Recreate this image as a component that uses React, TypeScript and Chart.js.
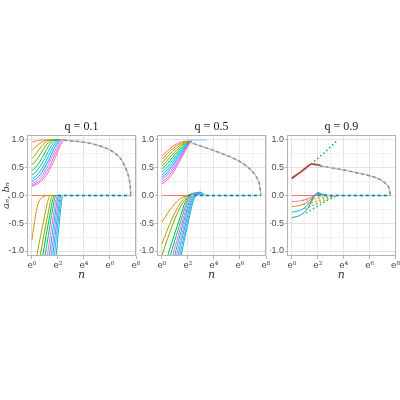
import { useEffect, useRef } from 'react';
import { Chart, registerables } from 'chart.js';

Chart.register(...registerables);

type Pt = [number, number];

// ---------- text / ticks ----------
const panelTitles = ['q = 0.1', 'q = 0.5', 'q = 0.9'];
const xMajorTicks = [0, 2, 4, 6, 8];
const xTickLabels = ['e⁰', 'e²', 'e⁴', 'e⁶', 'e⁸'];
const xMinorTicks = [1, 3, 5, 7];
const yMajorTicks = [-1, -0.5, 0, 0.5, 1];
const yTickLabels = ['-1.0', '-0.5', '0.0', '0.5', '1.0'];
const yMinorTicks = [-0.75, -0.25, 0.25, 0.75];
const yAxisLabel = 'aₙ, bₙ';
const xAxisLabel = 'n';

// ---------- q = 0.1 ----------
const p1UpperX = [0, 0.25, 0.5, 0.75, 1, 1.25, 1.5, 1.75, 2, 2.25, 2.5];
const p1Upper = [
  [0.96, 0.98, 0.99, 1, 1, 1, 1, 1, 1, 1, 1],
  [0.81, 0.87, 0.92, 0.96, 0.99, 1, 1, 1, 1, 1, 1],
  [0.67, 0.73, 0.81, 0.89, 0.95, 0.99, 1, 1, 1, 1, 1],
  [0.56, 0.61, 0.69, 0.78, 0.88, 0.95, 0.99, 1, 1, 1, 1],
  [0.45, 0.5, 0.57, 0.67, 0.77, 0.88, 0.96, 1, 1, 1, 1],
  [0.37, 0.41, 0.48, 0.57, 0.67, 0.79, 0.9, 0.97, 1, 1, 1],
  [0.31, 0.34, 0.4, 0.48, 0.58, 0.7, 0.82, 0.93, 0.99, 1, 1],
  [0.26, 0.29, 0.34, 0.41, 0.51, 0.62, 0.74, 0.87, 0.96, 1, 1],
  [0.22, 0.24, 0.29, 0.35, 0.44, 0.55, 0.67, 0.8, 0.92, 1, 1],
  [0.19, 0.21, 0.25, 0.3, 0.38, 0.48, 0.6, 0.73, 0.86, 0.97, 1],
  [0.17, 0.19, 0.22, 0.27, 0.33, 0.42, 0.53, 0.66, 0.8, 0.93, 1],
];
const p1UpperEnvelope: Pt[] = [
  [2, 1], [2.5, 0.995], [3, 0.985], [3.5, 0.975], [4, 0.96], [4.5, 0.94], [5, 0.91],
  [5.5, 0.87], [6, 0.82], [6.5, 0.74], [6.8, 0.67], [7.1, 0.55], [7.3, 0.44],
  [7.45, 0.32], [7.55, 0.18], [7.6, 0],
];
const p1LowerZero: Pt[] = [[0, 0], [2.5, 0]];
const p1LowerStart: Pt[] = [[0, -0.8], [0.15, -0.55], [0.3, -0.33], [0.45, -0.17], [0.6, -0.08], [0.9, -0.02], [1.2, 0], [2.5, 0]];
const p1Lower: Pt[][] = [
  [[0.15, -1.36], [0.36, -1.1], [0.67, -0.72], [0.98, -0.36], [1.19, -0.13], [1.32, -0.03], [1.4, 0], [2.5, 0]],
  [[0.42, -1.36], [0.62, -1.1], [0.91, -0.72], [1.21, -0.36], [1.4, -0.13], [1.52, -0.03], [1.6, 0], [2.5, 0]],
  [[0.64, -1.36], [0.82, -1.1], [1.09, -0.72], [1.37, -0.36], [1.55, -0.13], [1.66, -0.03], [1.73, 0], [2.5, 0]],
  [[0.83, -1.36], [1.0, -1.1], [1.26, -0.72], [1.51, -0.36], [1.68, -0.13], [1.78, -0.03], [1.85, 0], [2.5, 0]],
  [[1.02, -1.36], [1.18, -1.1], [1.41, -0.72], [1.65, -0.36], [1.8, -0.13], [1.9, -0.03], [1.96, 0], [2.5, 0]],
  [[1.18, -1.36], [1.33, -1.1], [1.55, -0.72], [1.77, -0.36], [1.91, -0.13], [2.0, -0.03], [2.06, 0], [2.5, 0]],
  [[1.32, -1.36], [1.46, -1.1], [1.67, -0.72], [1.87, -0.36], [2.01, -0.13], [2.09, -0.03], [2.15, 0], [2.5, 0]],
  [[1.46, -1.36], [1.59, -1.1], [1.78, -0.72], [1.97, -0.36], [2.1, -0.13], [2.18, -0.03], [2.23, 0], [2.5, 0]],
  [[1.6, -1.36], [1.72, -1.1], [1.89, -0.72], [2.07, -0.36], [2.18, -0.13], [2.25, -0.03], [2.3, 0], [2.5, 0]],
  [[1.75, -1.36], [1.85, -1.1], [2.01, -0.72], [2.16, -0.36], [2.27, -0.13], [2.33, -0.03], [2.37, 0], [2.5, 0]],
];
const p1LowerEnvelope: Pt[] = [[2, 0], [7.6, 0]];

// ---------- q = 0.5 ----------
const p2UpperX = [0, 0.4, 0.8, 1.2, 1.6, 2.0, 2.3];
const p2Upper = [
  [0.71, 0.8, 0.88, 0.94, 0.97, 0.98, 0.98],
  [0.65, 0.75, 0.84, 0.91, 0.95, 0.975, 0.98],
  [0.59, 0.69, 0.79, 0.87, 0.93, 0.97, 0.98],
  [0.53, 0.63, 0.74, 0.83, 0.91, 0.96, 0.98],
  [0.47, 0.57, 0.68, 0.79, 0.88, 0.95, 0.98],
  [0.42, 0.51, 0.63, 0.75, 0.86, 0.94, 0.985],
  [0.37, 0.46, 0.58, 0.71, 0.83, 0.93, 0.99],
  [0.33, 0.41, 0.53, 0.67, 0.8, 0.92, 0.99],
  [0.29, 0.37, 0.48, 0.63, 0.77, 0.91, 1],
  [0.25, 0.32, 0.44, 0.59, 0.75, 0.9, 1],
  [0.21, 0.28, 0.39, 0.55, 0.72, 0.89, 1],
];
const p2UpperCap: Pt[] = [[2.0, 1], [3.45, 1]];
const p2UpperEnvelope: Pt[] = [
  [2.0, 0.975], [2.5, 0.93], [3, 0.89], [3.5, 0.85], [4, 0.81], [4.5, 0.765], [5, 0.72],
  [5.5, 0.67], [6, 0.61], [6.5, 0.53], [7, 0.42], [7.3, 0.32], [7.5, 0.2], [7.6, 0],
];
const p2LowerZero: Pt[] = [[0, 0], [2.0, 0]];
const p2LowerStart: Pt[][] = [
  [[0, -0.48], [0.4, -0.33], [0.8, -0.2], [1.2, -0.1], [1.6, -0.03], [2.0, 0], [2.5, 0.02], [3.0, 0]],
  [[0, -0.87], [0.4, -0.63], [0.8, -0.41], [1.2, -0.22], [1.6, -0.08], [2.0, 0], [2.4, 0.03], [3.0, 0]],
  [[0, -1.08], [0.4, -0.8], [0.8, -0.54], [1.2, -0.31], [1.6, -0.13], [2.0, -0.02], [2.3, 0.02], [2.8, 0.01], [3.3, 0]],
];
const p2Lower: Pt[][] = [
  [[0.24, -1.35], [0.44, -1.1], [0.94, -0.72], [1.44, -0.36], [1.77, -0.13], [2.1, 0], [2.45, 0.04], [2.9, 0], [3.6, 0]],
  [[0.44, -1.35], [0.64, -1.1], [1.11, -0.72], [1.58, -0.36], [1.89, -0.13], [2.2, 0], [2.55, 0.045], [3.0, 0], [3.6, 0]],
  [[0.62, -1.35], [0.82, -1.1], [1.26, -0.72], [1.7, -0.36], [1.99, -0.13], [2.28, 0], [2.63, 0.05], [3.08, 0], [3.6, 0]],
  [[0.77, -1.35], [0.97, -1.1], [1.38, -0.72], [1.8, -0.36], [2.07, -0.13], [2.35, 0], [2.7, 0.05], [3.15, 0], [3.6, 0]],
  [[0.9, -1.35], [1.1, -1.1], [1.5, -0.72], [1.89, -0.36], [2.16, -0.13], [2.42, 0], [2.77, 0.055], [3.22, 0], [3.6, 0]],
  [[1.03, -1.35], [1.23, -1.1], [1.6, -0.72], [1.98, -0.36], [2.23, -0.13], [2.48, 0], [2.83, 0.055], [3.28, 0], [3.6, 0]],
  [[1.16, -1.35], [1.36, -1.1], [1.71, -0.72], [2.07, -0.36], [2.3, -0.13], [2.54, 0], [2.89, 0.06], [3.34, 0], [3.6, 0]],
  [[1.26, -1.35], [1.46, -1.1], [1.8, -0.72], [2.14, -0.36], [2.37, -0.13], [2.6, 0], [2.95, 0.06], [3.4, 0], [3.6, 0]],
];
const p2LowerEnvelope: Pt[] = [[2, 0], [7.6, 0]];

// ---------- q = 0.9 ----------
const p3Upper: Pt[][] = [
  [[0, 0.31], [0.5, 0.39], [1.0, 0.47], [1.4, 0.55], [1.6, 0.57], [1.9, 0.56], [2.2, 0.545]],
  [[0, 0.3], [0.5, 0.385], [1.0, 0.475], [1.3, 0.54], [1.55, 0.565], [1.8, 0.56], [2.2, 0.55]],
  [[0, 0.32], [0.5, 0.4], [1.0, 0.49], [1.4, 0.56], [1.7, 0.565], [2.2, 0.545]],
];
const p3UpperDotted: Pt[] = [[0, 0.31], [0.5, 0.39], [1.0, 0.48], [1.5, 0.57], [2.0, 0.67], [2.5, 0.77], [3.0, 0.88], [3.45, 0.98]];
const p3UpperEnvelope: Pt[] = [
  [1.7, 0.56], [2, 0.54], [2.5, 0.52], [3, 0.5], [3.5, 0.48], [4, 0.46], [4.5, 0.435], [5, 0.41],
  [5.5, 0.385], [6, 0.355], [6.5, 0.32], [7, 0.26], [7.3, 0.2], [7.5, 0.13], [7.6, 0],
];
const p3Lower: Pt[][] = [
  [[0, 0], [2.5, 0]],
  [[0, -0.11], [0.6, -0.1], [1.1, -0.07], [1.5, -0.03], [1.75, 0], [2.0, 0.02], [2.4, 0.01], [2.8, 0]],
  [[0, -0.2], [0.6, -0.18], [1.1, -0.13], [1.5, -0.06], [1.75, 0], [2.0, 0.03], [2.4, 0.01], [2.8, 0]],
  [[0, -0.3], [0.6, -0.27], [1.1, -0.2], [1.5, -0.09], [1.75, 0], [2.0, 0.04], [2.4, 0.015], [2.8, 0]],
  [[0, -0.4], [0.6, -0.36], [1.1, -0.27], [1.5, -0.12], [1.75, 0], [2.0, 0.05], [2.4, 0.02], [2.8, 0]],
];
const p3LowerDotted: Pt[][] = [
  [[0.8, -0.09], [1.5, -0.07], [2.5, -0.03], [3.45, 0]],
  [[0.9, -0.16], [1.5, -0.13], [2.5, -0.06], [3.45, 0]],
  [[1.0, -0.23], [1.5, -0.19], [2.5, -0.09], [3.45, 0]],
  [[1.1, -0.32], [1.5, -0.26], [2.5, -0.12], [3.45, 0]],
];
const p3LowerEnvelope: Pt[] = [[2, 0], [7.6, 0]];

// ---------- styles ----------
const hue11 = ['#F8766D', '#DB8E00', '#AEA200', '#64B200', '#00BD5C', '#00C1A7', '#00BADE', '#00A6FF', '#B385FF', '#EF67EB', '#FF63B6'];
const lowerCols = ['#F8766D', '#DE8C00', '#B79F00', '#7CAE00', '#00BA38', '#00C08B', '#F564E3', '#00BFC4', '#C77CFF', '#00B4F0', '#619CFF', '#00BFC4'];
const envLight = '#93d6e8';
const envRed = '#dc6a5e';
const envBlue = '#2a6f9b';

type Style = { color: string; width?: number; dash?: number[]; offset?: number };
function ds(pts: Pt[], s: Style) {
  return {
    data: pts.map(([x, y]) => ({ x, y })),
    borderColor: s.color,
    backgroundColor: s.color,
    borderWidth: s.width ?? 1,
    borderDash: s.dash ?? [],
    borderDashOffset: s.offset ?? 0,
    pointRadius: 0,
    pointHoverRadius: 0,
    fill: false,
    cubicInterpolationMode: 'monotone' as const,
    showLine: true,
  };
}
function gridRow(xs: number[], ys: number[]): Pt[] {
  return ys.map((y, j) => [xs[j], y] as Pt);
}
function envelope(pts: Pt[], dark: string) {
  return [
    ds(pts, { color: envLight, width: 1.4 }),
    ds(pts, { color: dark, width: 1.4, dash: [3, 3] }),
  ];
}

// listed in painting order (first = bottom); reversed for Chart.js which paints index 0 last
function panelDatasets(idx: number) {
  let list: any[];
  if (idx === 0) {
    list = [
      ...p1Upper.map((row, i) => ds(gridRow(p1UpperX, row), { color: hue11[i] })),
      ds(p1LowerZero, { color: lowerCols[0] }),
      ds(p1LowerStart, { color: lowerCols[1] }),
      ...p1Lower.map((c, i) => ds(c, { color: lowerCols[i + 2] })),
      ...envelope(p1UpperEnvelope, envRed),
      ...envelope(p1LowerEnvelope, envBlue),
    ];
  } else if (idx === 1) {
    list = [
      ...p2Upper.map((row, i) => ds(gridRow(p2UpperX, row), { color: hue11[i] })),
      ds(p2UpperCap, { color: envLight, width: 1.2 }),
      ds(p2LowerZero, { color: lowerCols[0] }),
      ...p2LowerStart.map((c, i) => ds(c, { color: lowerCols[i + 1] })),
      ...p2Lower.map((c, i) => ds(c, { color: lowerCols[i + 4] })),
      ...envelope(p2UpperEnvelope, envRed),
      ...envelope(p2LowerEnvelope, envBlue),
    ];
  } else {
    const p3LowerCols = ['#F8766D', '#FF64B0', '#DE8C00', '#00BFC4', '#1f8fc8'];
    const dotCols = ['#DE8C00', '#B79F00', '#7CAE00', '#00C08B'];
    list = [
      ds(p3UpperDotted, { color: '#00BA38', width: 1.5, dash: [1.5, 2.5] }),
      ...p3LowerDotted.map((c, i) => ds(c, { color: dotCols[i], width: 1.4, dash: [1.5, 2.5] })),
      ...p3Lower.map((c, i) => ds(c, { color: p3LowerCols[i] })),
      ...envelope(p3UpperEnvelope, envRed),
      ...p3Upper.map((c, i) => ds(c, { color: ['#F8766D', '#c8574c', '#a8473d'][i], width: 1.1 })),
      ...envelope(p3LowerEnvelope, envBlue),
    ];
  }
  return list.reverse();
}

const panelLayout = [
  { left: 0, width: 145, axisW: 27, padR: 9 },
  { left: 140, width: 135, axisW: 17, padR: 9 },
  { left: 270, width: 131, axisW: 17, padR: 5 },
];

const borderPlugin = {
  id: 'panelBorder',
  afterDatasetsDraw(chart: any) {
    const { ctx, chartArea } = chart;
    const { left, top, right, bottom } = chartArea;
    ctx.save();
    ctx.strokeStyle = '#b3b3b3';
    ctx.lineWidth = 1;
    ctx.strokeRect(Math.round(left) + 0.5, Math.round(top) + 0.5, Math.round(right - left) - 1, Math.round(bottom - top) - 1);
    ctx.restore();
  },
};

const textCol = '#4d4d4d';

function Panel({ idx }: { idx: number }) {
  const ref = useRef<HTMLCanvasElement>(null);
  const lay = panelLayout[idx];
  useEffect(() => {
    if (!ref.current) return;
    const isMajorX = (v: number) => xMajorTicks.indexOf(v) >= 0;
    const isMajorY = (v: number) => yMajorTicks.indexOf(v) >= 0;
    const chart = new Chart(ref.current, {
      type: 'line',
      data: { datasets: panelDatasets(idx) as any },
      plugins: [borderPlugin],
      options: {
        animation: false,
        responsive: false,
        devicePixelRatio: 1,
        events: [],
        layout: { padding: { left: 0, right: lay.padR, top: 0, bottom: 0 } },
        plugins: {
          legend: { display: false },
          tooltip: { enabled: false },
          title: {
            display: true,
            text: panelTitles[idx],
            fullSize: false,
            color: '#1a1a1a',
            font: { family: 'Liberation Serif', size: 12, weight: 'normal' },
            padding: { top: 9.6, bottom: 1 },
          },
        },
        scales: {
          x: {
            type: 'linear',
            min: -0.38,
            max: 8,
            afterBuildTicks: (s: any) => {
              s.ticks = [...xMajorTicks, ...xMinorTicks].sort((a, b) => a - b).map((v) => ({ value: v }));
            },
            afterFit: (s: any) => {
              s.height = 34;
            },
            ticks: {
              autoSkip: false,
              maxRotation: 0,
              padding: 1,
              color: textCol,
              font: { family: 'DejaVu Serif', size: 9 },
              callback: (v: any) => {
                const i = xMajorTicks.indexOf(Number(v));
                return i >= 0 ? xTickLabels[i] : '';
              },
            },
            grid: {
              color: (c: any) => (isMajorX(c.tick?.value) ? '#e4e4e4' : '#f2f2f2'),
              tickColor: (c: any) => (isMajorX(c.tick?.value) ? '#b3b3b3' : 'rgba(0,0,0,0)'),
              lineWidth: 1,
              tickLength: 3,
              drawTicks: true,
            },
            border: { display: false },
            title: {
              display: true,
              text: xAxisLabel,
              color: '#333333',
              font: { family: 'DejaVu Serif', size: 11, style: 'italic' },
              padding: { top: 0, bottom: 8 },
            },
          },
          y: {
            type: 'linear',
            min: -1.09,
            max: 1.09,
            afterBuildTicks: (s: any) => {
              s.ticks = [...yMajorTicks, ...yMinorTicks].sort((a, b) => a - b).map((v) => ({ value: v }));
            },
            afterFit: (s: any) => {
              s.width = lay.axisW;
            },
            ticks: {
              autoSkip: false,
              padding: 1,
              color: textCol,
              font: { family: 'Liberation Sans', size: 9 },
              callback: (v: any) => {
                const i = yMajorTicks.indexOf(Number(v));
                return i >= 0 ? yTickLabels[i] : '';
              },
            },
            grid: {
              color: (c: any) => (isMajorY(c.tick?.value) ? '#e4e4e4' : '#f2f2f2'),
              tickColor: (c: any) => (isMajorY(c.tick?.value) ? '#b3b3b3' : 'rgba(0,0,0,0)'),
              lineWidth: 1,
              tickLength: 2,
              drawTicks: true,
            },
            border: { display: false },
            title: {
              display: idx === 0,
              text: yAxisLabel,
              color: '#333333',
              font: { family: 'DejaVu Serif', size: 10, style: 'italic' },
              padding: { top: 0, bottom: 0 },
            },
          },
        },
      } as any,
    });
    return () => chart.destroy();
  }, []);
  return (
    <canvas
      ref={ref}
      width={lay.width}
      height={180}
      style={{ position: 'absolute', left: lay.left, top: 110, width: lay.width, height: 180 }}
    />
  );
}

export default function App() {
  return (
    <div style={{ position: 'fixed', left: 0, top: 0, width: 400, height: 400, background: '#ffffff', overflow: 'hidden' }}>
      <Panel idx={0} />
      <Panel idx={1} />
      <Panel idx={2} />
    </div>
  );
}
